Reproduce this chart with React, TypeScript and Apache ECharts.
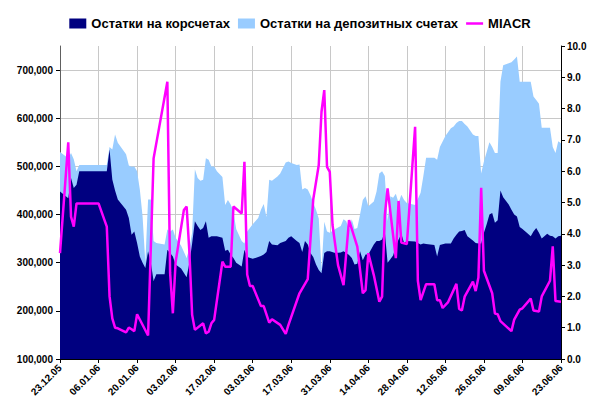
import React, { useEffect, useRef } from 'react';
import * as echarts from 'echarts';

// day offsets from 23.12.2005
const areaDays = [0, 3, 4, 5, 6, 7, 17, 18, 19, 20, 21, 24, 25, 26, 27, 28, 29, 30, 31, 32, 33, 34, 35, 38, 39, 40, 41, 42, 44, 46, 47, 48, 49, 50, 51, 52, 53, 54, 55, 56, 57, 59, 60, 61, 62, 63, 64, 66, 67, 68, 70, 72, 73, 74, 75, 76, 77, 79, 80, 82, 83, 84, 86, 87, 88, 89, 90, 91, 92, 93, 94, 95, 96, 97, 98, 100, 102, 103, 104, 105, 106, 107, 108, 109, 110, 111, 112, 114, 115, 116, 117, 118, 119, 120, 121, 122, 123, 124, 125, 126, 129, 131, 132, 133, 136, 137, 138, 140, 142, 143, 144, 145, 146, 147, 148, 150, 151, 152, 153, 154, 155, 156, 157, 158, 159, 160, 161, 163, 164, 165, 166, 167, 168, 170, 171, 172, 173, 174, 175, 177, 178, 179, 180, 181, 182];

// Остатки на корсчетах
const korr = [448000, 434000, 476000, 455000, 462000, 490000, 490000, 535000, 473000, 450000, 431000, 410000, 393000, 358000, 365000, 341000, 313000, 300000, 289000, 324000, 300000, 262000, 276000, 276000, 327000, 320000, 313000, 296000, 288000, 270000, 300000, 340000, 386000, 376000, 368000, 372000, 386000, 352000, 355000, 355000, 355000, 352000, 325000, 327000, 317000, 310000, 300000, 292000, 327000, 312000, 308000, 312000, 314000, 317000, 322000, 345000, 338000, 336000, 341000, 345000, 352000, 355000, 345000, 341000, 322000, 345000, 338000, 320000, 312000, 296000, 285000, 278000, 320000, 324000, 324000, 320000, 321000, 324000, 320000, 316000, 310000, 296000, 298000, 324000, 305000, 317000, 317000, 338000, 345000, 345000, 348000, 365000, 300000, 307000, 315000, 335000, 348000, 360000, 341000, 345000, 344000, 338000, 340000, 339000, 337000, 313000, 337000, 340000, 340000, 350000, 358000, 365000, 366000, 368000, 355000, 346000, 341000, 340000, 340000, 362000, 380000, 400000, 403000, 383000, 388000, 450000, 436000, 421000, 410000, 400000, 396000, 374000, 370000, 360000, 355000, 365000, 372000, 362000, 350000, 360000, 356000, 355000, 350000, 355000, 356000];

// Остатки на депозитных счетах
const dep = [82000, 83000, 52000, 60000, 28000, 13000, 13000, 5000, 62000, 116000, 118000, 115000, 109000, 141000, 135000, 149000, 139000, 96000, 11000, 107000, 131000, 83000, 65000, 62000, 42000, 45000, 56000, 56000, 47000, 40000, 30000, 22000, 108000, 100000, 102000, 100000, 131000, 162000, 145000, 145000, 135000, 126000, 95000, 103000, 104000, 97000, 70000, 53000, 13000, 53000, 72000, 81000, 96000, 105000, 73000, 127000, 132000, 143000, 144000, 163000, 158000, 152000, 158000, 163000, 130000, 110000, 114000, 120000, 112000, 114000, 107000, 7000, 65000, 41000, 38000, 50000, 55000, 66000, 66000, 52000, 80000, 74000, 74000, 76000, 125000, 121000, 100000, 89000, 103000, 140000, 142000, 115000, 86000, 131000, 120000, 108000, 76000, 81000, 89000, 79000, 76000, 107000, 140000, 179000, 181000, 201000, 203000, 223000, 239000, 233000, 232000, 229000, 228000, 220000, 228000, 220000, 222000, 223000, 145000, 148000, 150000, 150000, 137000, 145000, 140000, 226000, 274000, 293000, 306000, 322000, 332000, 302000, 306000, 316000, 321000, 280000, 266000, 268000, 230000, 220000, 224000, 185000, 178000, 197000, 192000];

const rateDays = [0, 3, 4, 5, 6, 7, 14, 17, 18, 19, 20, 21, 24, 25, 26, 27, 28, 32, 34, 39, 40, 41, 42, 45, 46, 47, 48, 49, 52, 53, 54, 55, 56, 59, 60, 62, 63, 66, 67, 68, 69, 70, 73, 74, 76, 77, 80, 82, 83, 87, 90, 92, 94, 95, 96, 97, 98, 99, 101, 103, 105, 108, 110, 111, 112, 114, 116, 117, 118, 119, 122, 123, 124, 126, 129, 130, 131, 133, 136, 137, 138, 139, 141, 144, 145, 146, 147, 150, 151, 152, 153, 154, 157, 158, 159, 160, 164, 165, 167, 168, 171, 172, 174, 175, 178, 179, 180, 182];

const miacr = [3.38, 6.92, 4.55, 4.23, 4.97, 4.97, 4.97, 4.23, 2.0, 1.3, 1.0, 0.98, 0.85, 1.0, 0.95, 0.89, 1.43, 0.75, 6.41, 8.86, 2.75, 1.46, 3.1, 4.76, 4.87, 3.43, 1.41, 0.93, 1.14, 0.82, 0.87, 1.14, 1.25, 3.11, 2.95, 2.95, 4.87, 4.65, 6.3, 2.7, 2.33, 2.33, 1.69, 1.69, 1.16, 1.27, 1.09, 0.8, 1.09, 2.1, 2.55, 5.1, 6.2, 7.9, 8.59, 6.14, 5.98, 4.28, 3.0, 2.36, 4.44, 3.59, 2.1, 2.2, 3.38, 2.68, 1.83, 1.99, 4.6, 5.45, 3.22, 5.05, 3.72, 3.67, 7.42, 2.5, 1.88, 2.39, 2.39, 1.88, 1.88, 1.63, 1.82, 2.4, 1.6, 1.55, 1.99, 2.47, 2.17, 2.6, 5.47, 2.82, 2.1, 1.45, 1.43, 1.21, 0.89, 1.26, 1.58, 1.62, 1.93, 1.55, 1.52, 2.0, 2.5, 3.6, 1.85, 1.83];

const seriesNames = ['Остатки на корсчетах', 'Остатки на депозитных счетах', 'MIACR'];
const BASE = Date.UTC(2005, 11, 23);
const FONT = 'Liberation Sans, Arial, sans-serif';

function dayLabel(d: number): string {
  const dt = new Date(BASE + d * 86400000);
  const dd = String(dt.getUTCDate()).padStart(2, '0');
  const mm = String(dt.getUTCMonth() + 1).padStart(2, '0');
  const yy = String(dt.getUTCFullYear() % 100).padStart(2, '0');
  return `${dd}.${mm}.${yy}`;
}

export default function App() {
  const ref = useRef<HTMLDivElement>(null);
  useEffect(() => {
    document.body.style.margin = '0';
    const chart = echarts.init(ref.current!, null, { renderer: 'svg' });
    const totals = areaDays.map((d, i) => [d, korr[i] + dep[i]]);
    const korrData = areaDays.map((d, i) => [d, korr[i]]);
    const rateData = rateDays.map((d, i) => [d, miacr[i]]);
    const axisText = { fontFamily: FONT, fontSize: 10, fontWeight: 'bold' as const, color: '#000' };
    chart.setOption({
      animation: false,
      grid: { left: 60, right: 39, top: 46, bottom: 53, containLabel: false },
      legend: {
        top: 12,
        left: 'center',
        itemWidth: 17,
        itemHeight: 10,
        itemGap: 8,
        textStyle: { fontFamily: FONT, fontSize: 13, fontWeight: 'bold', color: '#000' },
        data: [
          { name: seriesNames[0], icon: 'rect' },
          { name: seriesNames[1], icon: 'rect' },
          { name: seriesNames[2], icon: 'path://M0,0 L34,0 L34,5 L0,5 Z', itemStyle: { color: '#ff00ff' } },
        ],
      },
      xAxis: {
        type: 'value',
        min: 0,
        max: 182,
        interval: 14,
        axisLine: { show: true, lineStyle: { color: '#000', width: 1 } },
        axisTick: { show: true, inside: false, length: 4, lineStyle: { color: '#000' } },
        axisLabel: { ...axisText, rotate: 45, margin: 7, formatter: (v: number) => dayLabel(v) },
        splitLine: { show: true, lineStyle: { color: '#c8c8c8', width: 1 } },
      },
      yAxis: [
        {
          type: 'value',
          min: 100000,
          max: 750000,
          interval: 100000,
          axisLine: { show: true, lineStyle: { color: '#606060', width: 1 } },
          axisTick: { show: true, inside: false, length: 4, lineStyle: { color: '#000' } },
          axisLabel: {
            ...axisText,
            margin: 7,
            showMaxLabel: false,
            formatter: (v: number) => v.toLocaleString('en-US'),
          },
          splitLine: { show: true, showMaxLine: false, lineStyle: { color: '#c8c8c8', width: 1 } },
        },
        {
          type: 'value',
          min: 0,
          max: 10,
          interval: 1,
          position: 'right',
          axisLine: { show: true, lineStyle: { color: '#000', width: 1 } },
          axisTick: { show: true, inside: false, length: 4, lineStyle: { color: '#000' } },
          axisLabel: { ...axisText, margin: 6, formatter: (v: number) => v.toFixed(1) },
          splitLine: { show: false },
        },
      ],
      series: [
        {
          name: seriesNames[1],
          type: 'line',
          data: totals,
          symbol: 'none',
          lineStyle: { width: 0, color: '#99ccff' },
          itemStyle: { color: '#99ccff' },
          areaStyle: { color: '#99ccff', opacity: 1, origin: 'start' },
          z: 1,
        },
        {
          name: seriesNames[0],
          type: 'line',
          data: korrData,
          symbol: 'none',
          lineStyle: { width: 0, color: '#000080' },
          itemStyle: { color: '#000080' },
          areaStyle: { color: '#000080', opacity: 1, origin: 'start' },
          z: 2,
        },
        {
          name: seriesNames[2],
          type: 'line',
          yAxisIndex: 1,
          data: rateData,
          symbol: 'none',
          lineStyle: { width: 2.5, color: '#ff00ff' },
          itemStyle: { color: '#ff00ff' },
          z: 3,
        },
      ],
    });
    return () => chart.dispose();
  }, []);
  return <div ref={ref} style={{ width: 600, height: 412 }} />;
}
